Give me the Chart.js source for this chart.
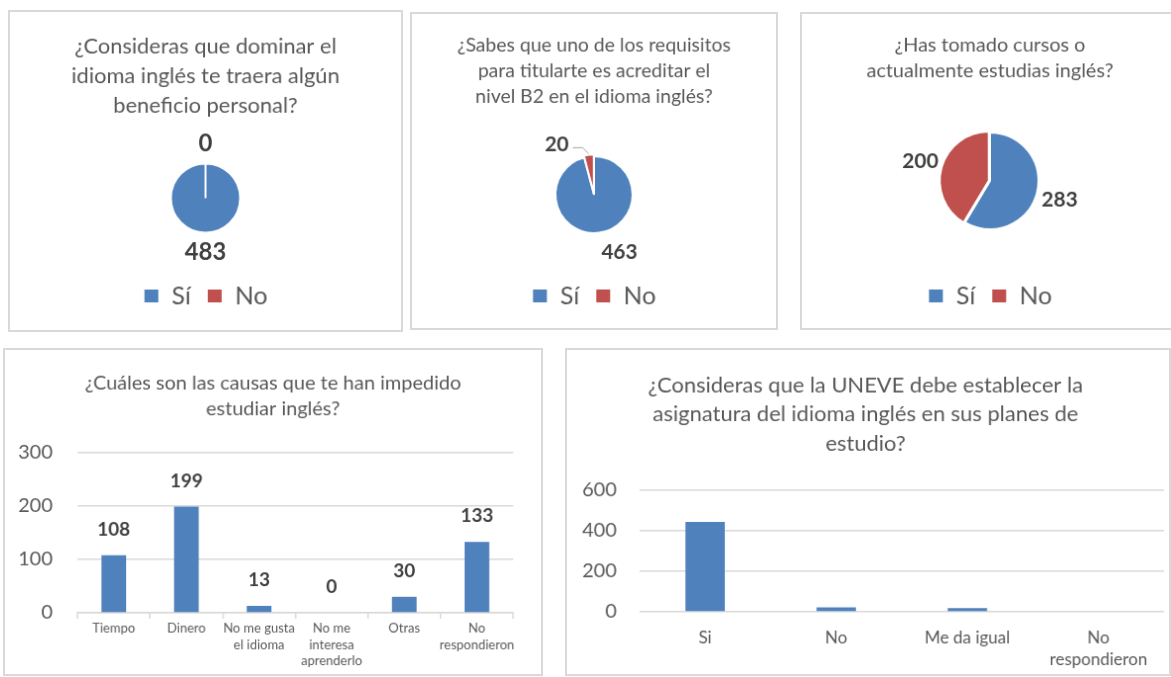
<!DOCTYPE html>
<html>
<head>
<meta charset="utf-8">
<script src="https://cdn.jsdelivr.net/npm/chart.js@4.4.0/dist/chart.umd.min.js"></script>
<style>
  body { margin: 0; background: #fff; width: 1171px; height: 677px; overflow: hidden; position: relative; }
  canvas { position: absolute; border: 2px solid #d9d9d9; }
</style>
</head>
<body>
<canvas id="c1" style="left:8px;top:10px" width="395" height="322"></canvas>
<canvas id="c2" style="left:410px;top:12px" width="368" height="318"></canvas>
<canvas id="c3" style="left:800px;top:12px" width="380" height="318"></canvas>
<canvas id="c4" style="left:3px;top:348px" width="540" height="328"></canvas>
<canvas id="c5" style="left:565px;top:348px" width="606" height="328"></canvas>
<script>
// data
const yesNo = ['Sí', 'No'];
const beneficioValues = [483, 0];
const requisitoValues = [463, 20];
const cursosValues = [283, 200];

const causasLabels = ['Tiempo', 'Dinero', ['No me gusta', 'el idioma'], ['No me', 'interesa', 'aprenderlo'], 'Otras', ['No', 'respondieron']];
const causasValues = [108, 199, 13, 0, 30, 133];

const asignaturaLabels = ['Si', 'No', 'Me da igual', ['No', 'respondieron']];
const asignaturaValues = [443, 22, 18, 0];

const titles = {
    beneficio: ['¿Consideras que dominar el', 'idioma inglés te traera algún', 'beneficio personal?'],
    requisito: ['¿Sabes que uno de los requisitos', 'para titularte es acreditar el', 'nivel B2 en el idioma inglés?'],
    cursos: ['¿Has tomado cursos o', 'actualmente estudias inglés?'],
    causas: ['¿Cuáles son las causas que te han impedido', 'estudiar inglés?'],
    asignatura: ['¿Consideras que la UNEVE debe establecer la', 'asignatura del idioma inglés en sus planes de', 'estudio?']
};

const BLUE = '#4f81bd';
const RED = '#c0504d';
const GRID = '#d9d9d9';

Chart.defaults.font.family = 'Lato, sans-serif';
Chart.defaults.color = '#595959';
Chart.defaults.animation = false;

// draws the value of each slice / bar, Excel style
const valueLabels = {
    id: 'valueLabels',
    afterDatasetsDraw(chart, args, opts) {
        const ctx = chart.ctx;
        const meta = chart.getDatasetMeta(0);
        const data = chart.data.datasets[0].data;
        ctx.save();
        ctx.font = 'bold ' + opts.size + 'px Lato, sans-serif';
        ctx.fillStyle = '#404040';
        ctx.textAlign = 'center';
        ctx.textBaseline = 'middle';
        meta.data.forEach((el, i) => {
            let x, y;
            if (chart.config.type === 'pie') {
                const mid = (el.startAngle + el.endAngle) / 2;
                const r = el.outerRadius + opts.gap;
                x = el.x + Math.cos(mid) * r;
                y = el.y + Math.sin(mid) * r;
                const shift = (opts.shift || [])[i];
                if (shift) {
                    x += shift.dx;
                    y += shift.dy;
                    if (shift.line) {
                        // label moved aside, join it back with a leader line
                        const w = ctx.measureText(String(data[i])).width;
                        const ax = el.x + Math.cos(mid) * (el.outerRadius + 3);
                        const ay = el.y + Math.sin(mid) * (el.outerRadius + 3);
                        ctx.strokeStyle = '#a6a6a6';
                        ctx.lineWidth = 1;
                        ctx.beginPath();
                        ctx.moveTo(x + w / 2 + 4, y + 3);
                        ctx.lineTo(ax - 6, y + 3);
                        ctx.lineTo(ax, ay);
                        ctx.stroke();
                    }
                }
            } else {
                x = el.x;
                y = el.y - opts.gap;
            }
            ctx.fillText(String(data[i]), x, y);
        });
        ctx.restore();
    }
};

function pieChart(id, values, title, o) {
    return new Chart(document.getElementById(id), {
        type: 'pie',
        data: {
            labels: yesNo,
            datasets: [{
                data: values,
                backgroundColor: [BLUE, RED],
                borderColor: '#fff',
                borderWidth: 2,
                radius: o.radius,
                offset: o.offset || 0
            }]
        },
        options: {
            responsive: false,
            layout: { padding: { bottom: o.bottom } },
            plugins: {
                title: {
                    display: true,
                    text: title,
                    color: '#595959',
                    font: { size: o.titleSize, weight: 'normal', lineHeight: o.titleLine },
                    padding: { top: o.titleTop, bottom: o.titleBottom }
                },
                legend: {
                    position: 'bottom',
                    labels: { boxWidth: 16, boxHeight: 15, padding: 16, font: { size: 25 }, color: '#595959' }
                },
                tooltip: { enabled: false },
                valueLabels: { size: o.labelSize, gap: o.labelGap, shift: o.shift }
            }
        },
        plugins: [valueLabels]
    });
}

pieChart('c1', beneficioValues, titles.beneficio, {
    radius: 35, titleSize: 22, titleLine: 1.36, titleTop: 20, titleBottom: 8,
    bottom: 12, labelSize: 24, labelGap: 20
});

pieChart('c2', requisitoValues, titles.requisito, {
    radius: 39, offset: [0, 4], titleSize: 19.5, titleLine: 1.33, titleTop: 19, titleBottom: 12,
    bottom: 10, labelSize: 21, labelGap: 20,
    shift: [{ dx: 18, dy: 0 }, { dx: -30, dy: 8, line: true }]
});

pieChart('c3', cursosValues, titles.cursos, {
    radius: 49, offset: [0, 5], titleSize: 20, titleLine: 1.3, titleTop: 19, titleBottom: 10,
    bottom: 10, labelSize: 21, labelGap: 24
});

new Chart(document.getElementById('c4'), {
    type: 'bar',
    data: {
        labels: causasLabels,
        datasets: [{
            data: causasValues,
            backgroundColor: BLUE,
            barPercentage: 0.34,
            categoryPercentage: 1
        }]
    },
    options: {
        responsive: false,
        layout: { padding: 0 },
        plugins: {
            legend: { display: false },
            tooltip: { enabled: false },
            title: {
                display: true,
                text: titles.causas,
                color: '#595959',
                font: { size: 20, weight: 'normal', lineHeight: 1.3 },
                padding: { top: 21, bottom: 31 }
            },
            valueLabels: { size: 19, gap: 26 }
        },
        scales: {
            x: {
                afterFit(scale) { scale.height = 62; },
                grid: { drawOnChartArea: false, offset: true, tickLength: 6, color: GRID, lineWidth: 1.5 },
                border: { color: GRID, width: 1.5 },
                ticks: { font: { size: 13, lineHeight: 1.3 }, padding: 1, maxRotation: 0, autoSkip: false }
            },
            y: {
                afterFit(scale) { scale.width = 73; },
                min: 0,
                max: 300,
                ticks: { stepSize: 100, font: { size: 20 }, padding: 25 },
                grid: { color: GRID, lineWidth: 1.5, drawTicks: false },
                border: { display: false }
            },
            // empty right margin, keeps the title centred on the whole panel
            spacer: {
                type: 'linear',
                position: 'right',
                afterFit(scale) { scale.width = 28; },
                grid: { display: false },
                ticks: { display: false },
                border: { display: false }
            }
        }
    },
    plugins: [valueLabels]
});

new Chart(document.getElementById('c5'), {
    type: 'bar',
    data: {
        labels: asignaturaLabels,
        datasets: [{
            data: asignaturaValues,
            backgroundColor: BLUE,
            barPercentage: 0.3,
            categoryPercentage: 1
        }]
    },
    options: {
        responsive: false,
        layout: { padding: { left: 0, right: 5, bottom: 0 } },
        plugins: {
            legend: { display: false },
            tooltip: { enabled: false },
            title: {
                display: true,
                text: titles.asignatura,
                color: '#595959',
                font: { size: 22, weight: 'normal', lineHeight: 1.36 },
                padding: { top: 20.5, bottom: 31.5 }
            }
        },
        scales: {
            x: {
                afterFit(scale) { scale.height = 63; },
                grid: { display: false, drawTicks: false },
                border: { display: false },
                ticks: { font: { size: 17, lineHeight: 1.3 }, padding: 15, maxRotation: 0, autoSkip: false }
            },
            y: {
                afterFit(scale) { scale.width = 73; },
                min: 0,
                max: 600,
                ticks: { stepSize: 200, font: { size: 20 }, padding: 23 },
                grid: { color: GRID, lineWidth: 1.5, drawTicks: false },
                border: { display: false }
            }
        }
    }
});
</script>
</body>
</html>
